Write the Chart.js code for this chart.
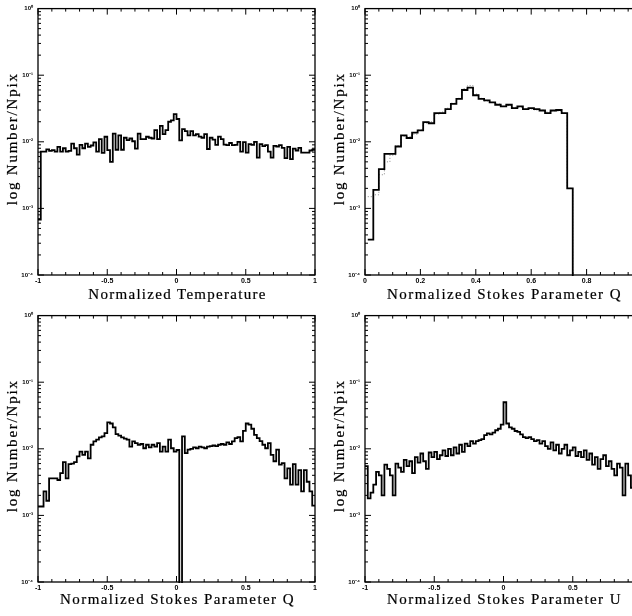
<!DOCTYPE html>
<html><head><meta charset="utf-8">
<script src="https://cdn.jsdelivr.net/npm/chart.js@4.4.0/dist/chart.umd.min.js"></script>
<style>
html,body{margin:0;padding:0;background:#fff;overflow:hidden;width:632px;height:616px;position:relative}
canvas{position:absolute;display:block}
</style></head><body>
<canvas id="c1" width="330" height="305" style="left:0;top:0"></canvas>
<canvas id="c2" width="330" height="305" style="left:327px;top:0"></canvas>
<canvas id="c3" width="330" height="305" style="left:0;top:307px"></canvas>
<canvas id="c4" width="330" height="305" style="left:327px;top:307px"></canvas>
<script>
// ---------- data ----------
const yTitle = "log Number/Npix";
const titles = ["Normalized Temperature", "Normalized Stokes Parameter Q", "Normalized Stokes Parameter Q", "Normalized Stokes Parameter U"];
const decades = [1e-4, 1e-3, 1e-2, 1e-1, 1];
const decadeLabels = ["10\u207B\u2074", "10\u207B\u00B3", "10\u207B\u00B2", "10\u207B\u00B9", "10\u2070"];

// Panel 1: temperature, bins of 0.02 from -1
const tempStart = -1, tempWidth = 0.02;
const tempVals = [
 6.8e-4,7.1e-3,7.1e-3,7.7e-3,7.3e-3,7.5e-3,7.1e-3,8.4e-3,7.1e-3,8.0e-3,
 7.1e-3,7.3e-3,9.4e-3,8.0e-3,6.4e-3,9.0e-3,8.0e-3,9.4e-3,8.4e-3,8.8e-3,
 9.8e-3,7.1e-3,1.1e-2,6.8e-3,1.19e-2,7.5e-3,5.0e-3,1.33e-2,7.6e-3,1.25e-2,
 7.6e-3,1.15e-2,1.06e-2,1.12e-2,1.02e-2,7.9e-3,1.33e-2,1.1e-2,1.1e-2,1.19e-2,
 1.15e-2,1.12e-2,1.5e-2,1.1e-2,1.74e-2,1.3e-2,1.5e-2,2.0e-2,2.1e-2,2.6e-2,
 2.2e-2,1.05e-2,1.55e-2,1.45e-2,1.25e-2,1.45e-2,1.25e-2,1.3e-2,1.2e-2,1.15e-2,
 1.3e-2,7.8e-3,1.15e-2,1.08e-2,9.0e-3,1.2e-2,1.1e-2,9.1e-3,8.9e-3,9.6e-3,
 8.9e-3,9.0e-3,1.0e-2,7.1e-3,9.9e-3,6.9e-3,9.2e-3,9.0e-3,1.0e-2,5.8e-3,
 9.2e-3,8.6e-3,8.9e-3,7.1e-3,5.8e-3,8.7e-3,8.5e-3,8.9e-3,8.1e-3,5.7e-3,
 8.4e-3,5.5e-3,7.9e-3,7.4e-3,8.1e-3,6.9e-3,6.9e-3,6.9e-3,7.4e-3,7.6e-3
];

// Panel 2: polarization Q (0..1), bins of 0.02 starting at 0.01
const polStart = 0.01, polWidth = 0.02;
const polSolid = [
 3.4e-4,1.9e-3,3.9e-3,6.6e-3,6.6e-3,8.5e-3,1.25e-2,1.14e-2,1.37e-2,1.48e-2,
 1.97e-2,1.9e-2,2.7e-2,2.7e-2,3.1e-2,3.7e-2,4.4e-2,6.0e-2,6.5e-2,5.0e-2,
 4.4e-2,4.2e-2,3.9e-2,3.6e-2,3.4e-2,3.6e-2,3.2e-2,3.4e-2,3.1e-2,3.2e-2,
 3.1e-2,2.95e-2,2.7e-2,2.95e-2,3.0e-2,2.7e-2,2.0e-3,0
];
const polDotted = [
 1.5e-3,1.6e-3,3.2e-3,5.0e-3,6.3e-3,8.8e-3,1.2e-2,1.2e-2,1.3e-2,1.5e-2,
 1.9e-2,2.0e-2,2.6e-2,2.8e-2,3.2e-2,3.8e-2,4.5e-2,6.3e-2,7.0e-2,5.2e-2,
 4.5e-2,4.1e-2,3.9e-2,3.7e-2,3.4e-2,3.5e-2,3.3e-2,3.3e-2,3.1e-2,3.1e-2,
 3.0e-2,3.0e-2,2.8e-2,2.9e-2,2.9e-2,2.7e-2,2.0e-3,0
];

// Panel 3: Stokes Q (-1..1), bins of 0.02 from -1
const qStart = -1, qWidth = 0.02;
const qVals = [
 1.36e-3,1.36e-3,2.3e-3,1.66e-3,3.6e-3,3.6e-3,3.6e-3,3.4e-3,4.3e-3,6.3e-3,
 3.6e-3,5.9e-3,6.0e-3,6.3e-3,7.7e-3,9.1e-3,8.1e-3,9.1e-3,7.2e-3,1.15e-2,
 1.29e-2,1.37e-2,1.48e-2,1.54e-2,1.72e-2,2.5e-2,2.4e-2,2.1e-2,1.66e-2,1.58e-2,
 1.48e-2,1.42e-2,1.37e-2,1.08e-2,1.29e-2,1.22e-2,1.15e-2,1.18e-2,1.02e-2,1.15e-2,
 1.05e-2,1.15e-2,1.08e-2,1.22e-2,9.1e-3,1.08e-2,9.1e-3,1.37e-2,1.02e-2,9.1e-3,
 9.6e-3,0,1.54e-2,8.6e-3,9.7e-3,1.0e-2,1.05e-2,1.02e-2,1.08e-2,1.05e-2,
 1.02e-2,1.08e-2,1.1e-2,1.12e-2,1.1e-2,1.15e-2,1.18e-2,1.15e-2,1.25e-2,1.18e-2,
 1.29e-2,1.45e-2,1.5e-2,1.29e-2,1.86e-2,2.4e-2,2.3e-2,2.0e-2,1.62e-2,1.45e-2,
 1.3e-2,1.15e-2,1.02e-2,1.22e-2,8.1e-3,6.5e-3,9.7e-3,5.8e-3,6.1e-3,3.6e-3,
 5.1e-3,2.9e-3,5.9e-3,2.9e-3,4.8e-3,2.3e-3,4.8e-3,3.2e-3,2.3e-3,1.4e-3
];

// Panel 4: Stokes U (-1..1), bins of 0.02 from -1
const uStart = -1, uWidth = 0.02;
const uVals = [
 5.5e-3,1.8e-3,2.2e-3,2.9e-3,4.5e-3,4.0e-3,2.0e-3,5.8e-3,5.0e-3,4.0e-3,
 2.0e-3,6.0e-3,5.2e-3,4.5e-3,6.8e-3,5.5e-3,6.5e-3,4.3e-3,7.5e-3,6.2e-3,
 8.5e-3,6.5e-3,5.0e-3,8.8e-3,7.5e-3,9.0e-3,7.0e-3,8.0e-3,9.5e-3,7.8e-3,
 1.0e-2,8.0e-3,1.05e-2,8.5e-3,1.15e-2,9.0e-3,1.2e-2,1.1e-2,1.3e-2,1.2e-2,
 1.3e-2,1.35e-2,1.4e-2,1.6e-2,1.7e-2,1.65e-2,1.75e-2,1.9e-2,2.0e-2,2.3e-2,
 5.0e-2,2.4e-2,2.1e-2,2.0e-2,1.85e-2,1.8e-2,1.65e-2,1.5e-2,1.45e-2,1.5e-2,
 1.4e-2,1.3e-2,1.35e-2,1.2e-2,1.3e-2,1.1e-2,1.0e-2,1.25e-2,9.5e-3,1.15e-2,
 8.5e-3,1.0e-2,1.15e-2,8.0e-3,9.5e-3,1.05e-2,7.8e-3,9.0e-3,7.5e-3,9.5e-3,
 6.8e-3,8.5e-3,5.8e-3,7.5e-3,5.0e-3,7.0e-3,8.0e-3,5.5e-3,6.5e-3,5.0e-3,
 4.0e-3,6.0e-3,5.2e-3,2.0e-3,6.0e-3,4.0e-3,2.6e-3,4.5e-3,3.0e-3,3.5e-3
];

// ---------- helpers ----------
const FLOOR = 1e-6; // zero counts are drawn below the axis floor
function histPoints(start, width, vals) {
  const pts = vals.map((v, i) => ({ x: start + i * width, y: v > 0 ? v : FLOOR }));
  const last = vals[vals.length - 1];
  pts.push({ x: start + vals.length * width, y: last > 0 ? last : FLOOR });
  return pts;
}

const framePlugin = {
  id: 'frame',
  afterDraw(chart, args, o) {
    const { ctx, chartArea: ca } = chart;
    const x = chart.scales.x, y = chart.scales.y;
    ctx.save();
    ctx.strokeStyle = '#000';
    ctx.lineWidth = 1.3;
    ctx.strokeRect(ca.left, ca.top, ca.right - ca.left, ca.bottom - ca.top);
    ctx.lineWidth = 1;
    ctx.beginPath();
    const n = Math.round((x.max - x.min) / o.xMinor);
    const ratio = Math.round(o.xMajor / o.xMinor);
    for (let k = 0; k <= n; k++) {
      const px = x.getPixelForValue(x.min + k * o.xMinor);
      const L = (k % ratio === 0) ? 6 : 3;
      ctx.moveTo(px, ca.bottom); ctx.lineTo(px, ca.bottom - L);
      ctx.moveTo(px, ca.top); ctx.lineTo(px, ca.top + L);
    }
    for (let d = 0; d < 4; d++) {
      for (let m = 1; m <= 9; m++) {
        const py = y.getPixelForValue(decades[d] * m);
        const L = m === 1 ? 6 : 3;
        ctx.moveTo(ca.left, py); ctx.lineTo(ca.left + L, py);
        ctx.moveTo(ca.right, py); ctx.lineTo(ca.right - L, py);
      }
    }
    ctx.stroke();
    // axis titles
    ctx.fillStyle = '#000';
    ctx.strokeStyle = '#000';
    ctx.lineWidth = 0.2;
    ctx.font = '15px "Liberation Serif", "DejaVu Serif", serif';
    ctx.textAlign = 'center';
    ctx.textBaseline = 'middle';
    const fit = (text, target) => {
      ctx.letterSpacing = '0px';
      const w = ctx.measureText(text).width;
      ctx.letterSpacing = ((target - w) / text.length).toFixed(2) + 'px';
    };
    const put = (text, px, py) => { ctx.fillText(text, px, py); ctx.strokeText(text, px, py); };
    fit(o.xTitle, o.xTitle.length * 8.1);
    put(o.xTitle, (ca.left + ca.right) / 2 + 1, ca.bottom + o.titleGap);
    ctx.save();
    ctx.translate(ca.left - 25, (ca.top + ca.bottom) / 2 - 3);
    ctx.rotate(-Math.PI / 2);
    fit(yTitle, 133);
    put(yTitle, 0, 0);
    ctx.restore();
    ctx.letterSpacing = '0px';
    ctx.restore();
  }
};

function makeChart(id, xr, datasets, xTitle, titleGap) {
  new Chart(document.getElementById(id), {
    type: 'line',
    data: { datasets },
    options: {
      responsive: false,
      animation: false,
      events: [],
      layout: { padding: { top: 8, right: 15, left: 0, bottom: 0 } },
      elements: { point: { radius: 0 }, line: { tension: 0 } },
      plugins: {
        legend: { display: false },
        tooltip: { enabled: false },
        frame: { xMinor: xr.minor, xMajor: xr.step, xTitle, titleGap }
      },
      scales: {
        x: {
          type: 'linear', min: xr.min, max: xr.max,
          grid: { display: false, drawTicks: false, tickLength: 0 }, border: { display: false },
          ticks: { stepSize: xr.step, maxRotation: 0, autoSkip: false, padding: 2, color: '#000',
                   font: { size: 7, weight: 'bold', family: '"Liberation Sans", Arial, sans-serif' },
                   callback: v => String(Math.round(v * 100) / 100) },
          afterFit: s => { s.height = 30; }
        },
        y: {
          type: 'logarithmic', min: 1e-4, max: 1,
          grid: { display: false, drawTicks: false, tickLength: 0 }, border: { display: false },
          afterBuildTicks: s => { s.ticks = decades.map(v => ({ value: v })); },
          ticks: {
            padding: 5, color: '#000',
            font: { size: 6, weight: 'bold', family: '"Liberation Sans", Arial, sans-serif' },
            callback: (v) => { const i = decades.indexOf(v); return i >= 0 ? decadeLabels[i] : ''; }
          },
          afterFit: s => { s.width = 38; }
        }
      }
    },
    plugins: [framePlugin]
  });
}

function solid(points) {
  return { data: points, stepped: true, borderColor: '#000', borderWidth: 1.8, fill: false, clip: 1 };
}

makeChart('c1', { min: -1, max: 1, step: 0.5, minor: 0.1 },
  [solid(histPoints(tempStart, tempWidth, tempVals))], titles[0], 20);
makeChart('c2', { min: 0, max: 1, step: 0.2, minor: 0.05 },
  [solid(histPoints(polStart, polWidth, polSolid)),
   { data: histPoints(polStart, polWidth, polDotted), stepped: true, borderColor: '#888', borderWidth: 1,
     borderDash: [1, 2], fill: false, clip: 1 }], titles[1], 20);
makeChart('c3', { min: -1, max: 1, step: 0.5, minor: 0.1 },
  [solid(histPoints(qStart, qWidth, qVals))], titles[2], 18);
makeChart('c4', { min: -1, max: 1, step: 0.5, minor: 0.1 },
  [solid(histPoints(uStart, uWidth, uVals))], titles[3], 18);
</script>
</body></html>
